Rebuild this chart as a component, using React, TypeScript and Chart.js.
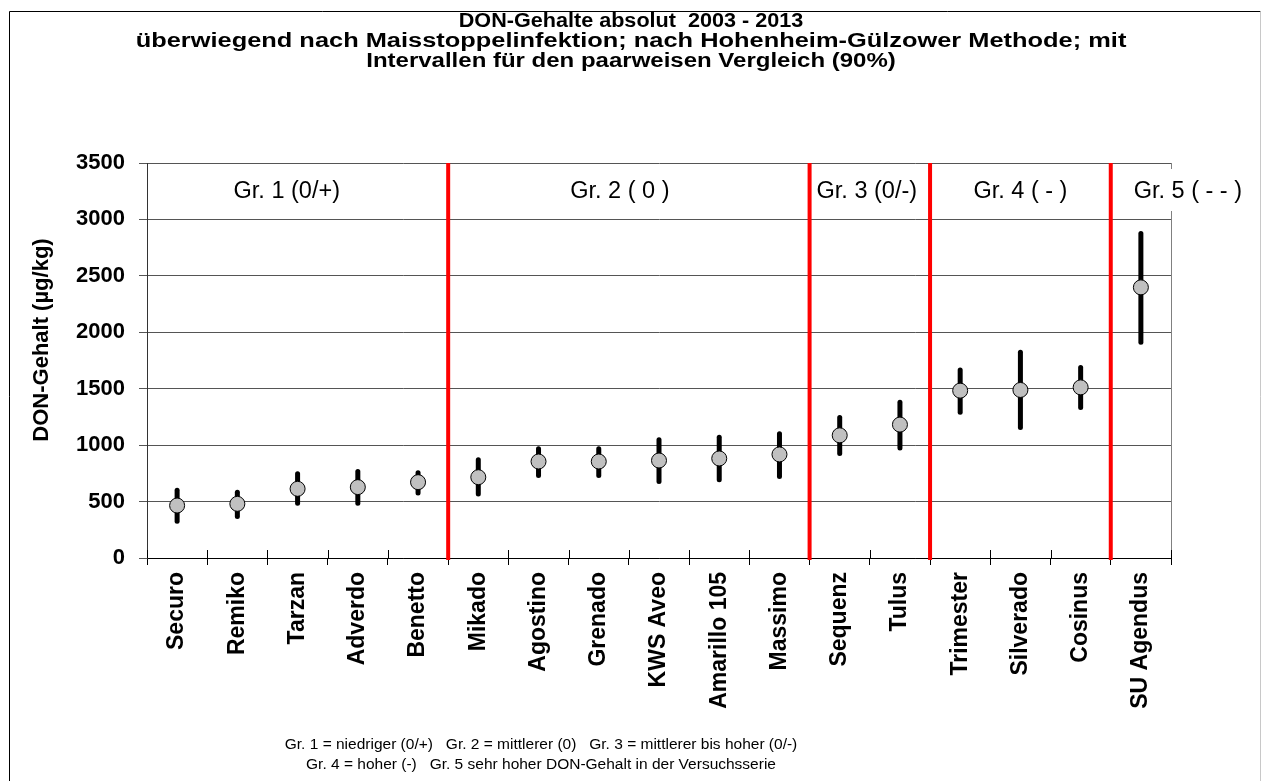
import React, { useEffect, useRef } from "react";
import { Chart, registerables } from "chart.js";

Chart.register(...registerables);

const categories = [
  "Securo", "Remiko", "Tarzan", "Adverdo", "Benetto", "Mikado", "Agostino", "Grenado",
  "KWS Aveo", "Amarillo 105", "Massimo", "Sequenz", "Tulus", "Trimester", "Silverado",
  "Cosinus", "SU Agendus",
];
const meanValues = [465, 480, 613, 628, 672, 716, 855, 855, 864, 882, 918, 1087, 1182, 1483, 1489, 1512, 2398];
const lowerValues = [325, 367, 486, 486, 577, 568, 731, 731, 678, 693, 722, 927, 975, 1291, 1157, 1334, 1911];
const upperValues = [600, 583, 746, 766, 755, 870, 968, 968, 1048, 1071, 1101, 1246, 1380, 1666, 1822, 1689, 2876];

const yMin = 0;
const yMax = 3500;
const yStep = 500;

const groupLabels = ["Gr. 1 (0/+)", "Gr. 2 ( 0 )", "Gr. 3 (0/-)", "Gr. 4 ( - )", "Gr. 5 ( - - )"];
const groupLabelPos = [1.82, 7.35, 11.45, 14.0, 16.78];
const groupBoundaries = [4.5, 10.5, 12.5, 15.5];

const titleLines = [
  "DON-Gehalte absolut  2003 - 2013",
  "überwiegend nach Maisstoppelinfektion; nach Hohenheim-Gülzower Methode; mit",
  "Intervallen für den paarweisen Vergleich (90%)",
];
const yAxisTitle = "DON-Gehalt (µg/kg)";
const footerLines = [
  "Gr. 1 = niedriger (0/+)   Gr. 2 = mittlerer (0)   Gr. 3 = mittlerer bis hoher (0/-)",
  "Gr. 4 = hoher (-)   Gr. 5 sehr hoher DON-Gehalt in der Versuchsserie",
];

const FONT = '"Liberation Sans", Arial, sans-serif';

function drawText(ctx: CanvasRenderingContext2D, text: string, cx: number, cy: number, font: string, sx = 1, rot = 0) {
  ctx.save();
  ctx.translate(cx, cy);
  if (rot) ctx.rotate(rot);
  ctx.scale(sx, 1);
  ctx.font = font;
  ctx.fillStyle = "#000";
  ctx.textAlign = "center";
  ctx.textBaseline = "middle";
  ctx.fillText(text, 0, 0);
  ctx.restore();
}

const decorPlugin = {
  id: "decor",
  beforeDraw(chart: any) {
    const { ctx, width, height } = chart;
    ctx.save();
    ctx.fillStyle = "#fff";
    ctx.fillRect(0, 0, width, height);
    ctx.lineWidth = 1;
    ctx.strokeStyle = "#000";
    ctx.beginPath();
    ctx.moveTo(9.5, height);
    ctx.lineTo(9.5, 11.5);
    ctx.lineTo(1260.5, 11.5);
    ctx.stroke();
    ctx.strokeStyle = "#c8c8c8";
    ctx.beginPath();
    ctx.moveTo(1260.5, 11.5);
    ctx.lineTo(1260.5, height);
    ctx.stroke();
    ctx.restore();
  },
  beforeDatasetsDraw(chart: any) {
    const { ctx, chartArea, scales } = chart;
    const x = scales.x;
    const y = scales.y;
    ctx.save();
    ctx.strokeStyle = "#808080";
    ctx.lineWidth = 1;
    ctx.beginPath();
    ctx.moveTo(Math.round(chartArea.right) + 0.5, chartArea.top);
    ctx.lineTo(Math.round(chartArea.right) + 0.5, chartArea.bottom);
    ctx.stroke();
    ctx.strokeStyle = "#000";
    for (let i = 0; i <= categories.length; i++) {
      const px = Math.round(x.getPixelForValue(i - 0.5)) + 0.5;
      ctx.beginPath();
      ctx.moveTo(px, chartArea.bottom - 8);
      ctx.lineTo(px, chartArea.bottom);
      ctx.stroke();
    }
    ctx.strokeStyle = "#ff0000";
    ctx.lineWidth = 4;
    for (const b of groupBoundaries) {
      const px = x.getPixelForValue(b);
      ctx.beginPath();
      ctx.moveTo(px, chartArea.top);
      ctx.lineTo(px, chartArea.bottom + 2);
      ctx.stroke();
    }
    const gFont = `23.5px ${FONT}`;
    ctx.font = gFont;
    groupLabels.forEach((lbl, i) => {
      const cx = x.getPixelForValue(groupLabelPos[i]);
      const cy = chartArea.top + 29;
      if (i === groupLabels.length - 1) {
        const w = ctx.measureText(lbl).width;
        ctx.fillStyle = "#fff";
        ctx.fillRect(cx - w / 2 - 6, chartArea.top + 6, w + 12, 42);
      }
      drawText(ctx, lbl, cx, cy, gFont);
    });
    ctx.strokeStyle = "#000";
    ctx.lineWidth = 5;
    ctx.lineCap = "round";
    for (let i = 0; i < categories.length; i++) {
      const px = x.getPixelForValue(i);
      ctx.beginPath();
      ctx.moveTo(px, y.getPixelForValue(lowerValues[i]));
      ctx.lineTo(px, y.getPixelForValue(upperValues[i]));
      ctx.stroke();
    }
    ctx.restore();
  },
  afterDraw(chart: any) {
    const { ctx } = chart;
    const tFont = `bold 20px ${FONT}`;
    drawText(ctx, titleLines[0], 631, 21, tFont, 1.08);
    drawText(ctx, titleLines[1], 631, 41, tFont, 1.27);
    drawText(ctx, titleLines[2], 631, 61, tFont, 1.2);
    drawText(ctx, yAxisTitle, 42, 340, `bold 22px ${FONT}`, 1, -Math.PI / 2);
    drawText(ctx, footerLines[0], 541, 745, `15.5px ${FONT}`);
    drawText(ctx, footerLines[1], 541, 765, `15.5px ${FONT}`);
  },
};

export default function App() {
  const canvasRef = useRef<HTMLCanvasElement | null>(null);

  useEffect(() => {
    if (!canvasRef.current) return;
    const chart = new Chart(canvasRef.current, {
      type: "line",
      data: {
        labels: categories,
        datasets: [
          {
            label: "DON",
            data: meanValues,
            showLine: false,
            pointRadius: 7.5,
            pointHoverRadius: 7.5,
            pointBackgroundColor: "#c0c0c0",
            pointBorderColor: "#000",
            pointBorderWidth: 1,
          },
        ],
      },
      options: {
        animation: false,
        responsive: true,
        maintainAspectRatio: false,
        layout: { padding: { left: 0, top: 163, right: 91, bottom: 0 } },
        plugins: {
          legend: { display: false },
          tooltip: { enabled: false },
          title: { display: false },
        },
        scales: {
          x: {
            type: "category",
            offset: true,
            grid: { offset: true, drawOnChartArea: false, drawTicks: true, tickLength: 7, color: "#000", lineWidth: 1 },
            border: { display: true, color: "#000", width: 1 },
            ticks: {
              autoSkip: false,
              maxRotation: 90,
              minRotation: 90,
              padding: 7,
              color: "#000",
              font: { family: FONT, size: 23, weight: "bold" },
            },
            afterFit: (scale: any) => {
              scale.height = 223;
            },
          },
          y: {
            min: yMin,
            max: yMax,
            ticks: {
              stepSize: yStep,
              padding: 14,
              color: "#000",
              font: { family: FONT, size: 22, weight: "bold" },
              callback: (v: any) => String(v),
            },
            grid: { color: "#555", lineWidth: 1, drawTicks: true, tickLength: 8 },
            border: { display: true, color: "#333", width: 1 },
            afterFit: (scale: any) => {
              scale.width = 147;
            },
          },
        },
      },
      plugins: [decorPlugin],
    });
    return () => chart.destroy();
  }, []);

  return (
    <div style={{ position: "absolute", left: 0, top: 0, width: 1262, height: 781, overflow: "hidden", background: "#fff" }}>
      <canvas ref={canvasRef} />
    </div>
  );
}
